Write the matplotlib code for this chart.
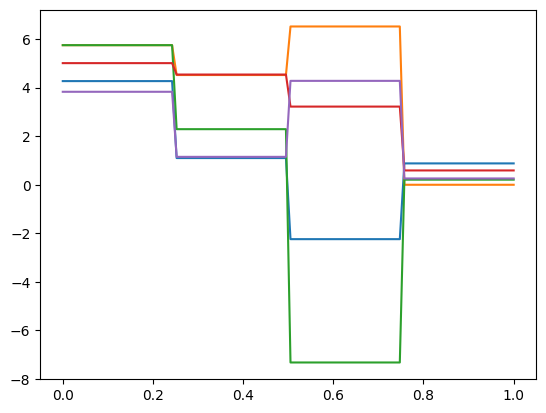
import numpy as np
import matplotlib
matplotlib.use("Agg")
import matplotlib.pyplot as plt

# x sampled on 100 points, each series is constant within 4 quarters
x = np.linspace(0, 1, 100)
edges = [0.25, 0.5, 0.75]

blue = [4.27, 1.10, -2.24, 0.88]
orange = [5.75, 4.52, 6.52, 0.0]
green = [5.75, 2.29, -7.32, 0.21]
red = [5.01, 4.54, 3.22, 0.59]
purple = [3.83, 1.15, 4.28, 0.26]

seg = np.digitize(x, edges)

fig, ax = plt.subplots(figsize=(6.4, 4.8), dpi=100)
for levels in (blue, orange, green, red, purple):
    ax.plot(x, np.asarray(levels)[seg])

fig.savefig("out.png", dpi=100, bbox_inches="tight")
